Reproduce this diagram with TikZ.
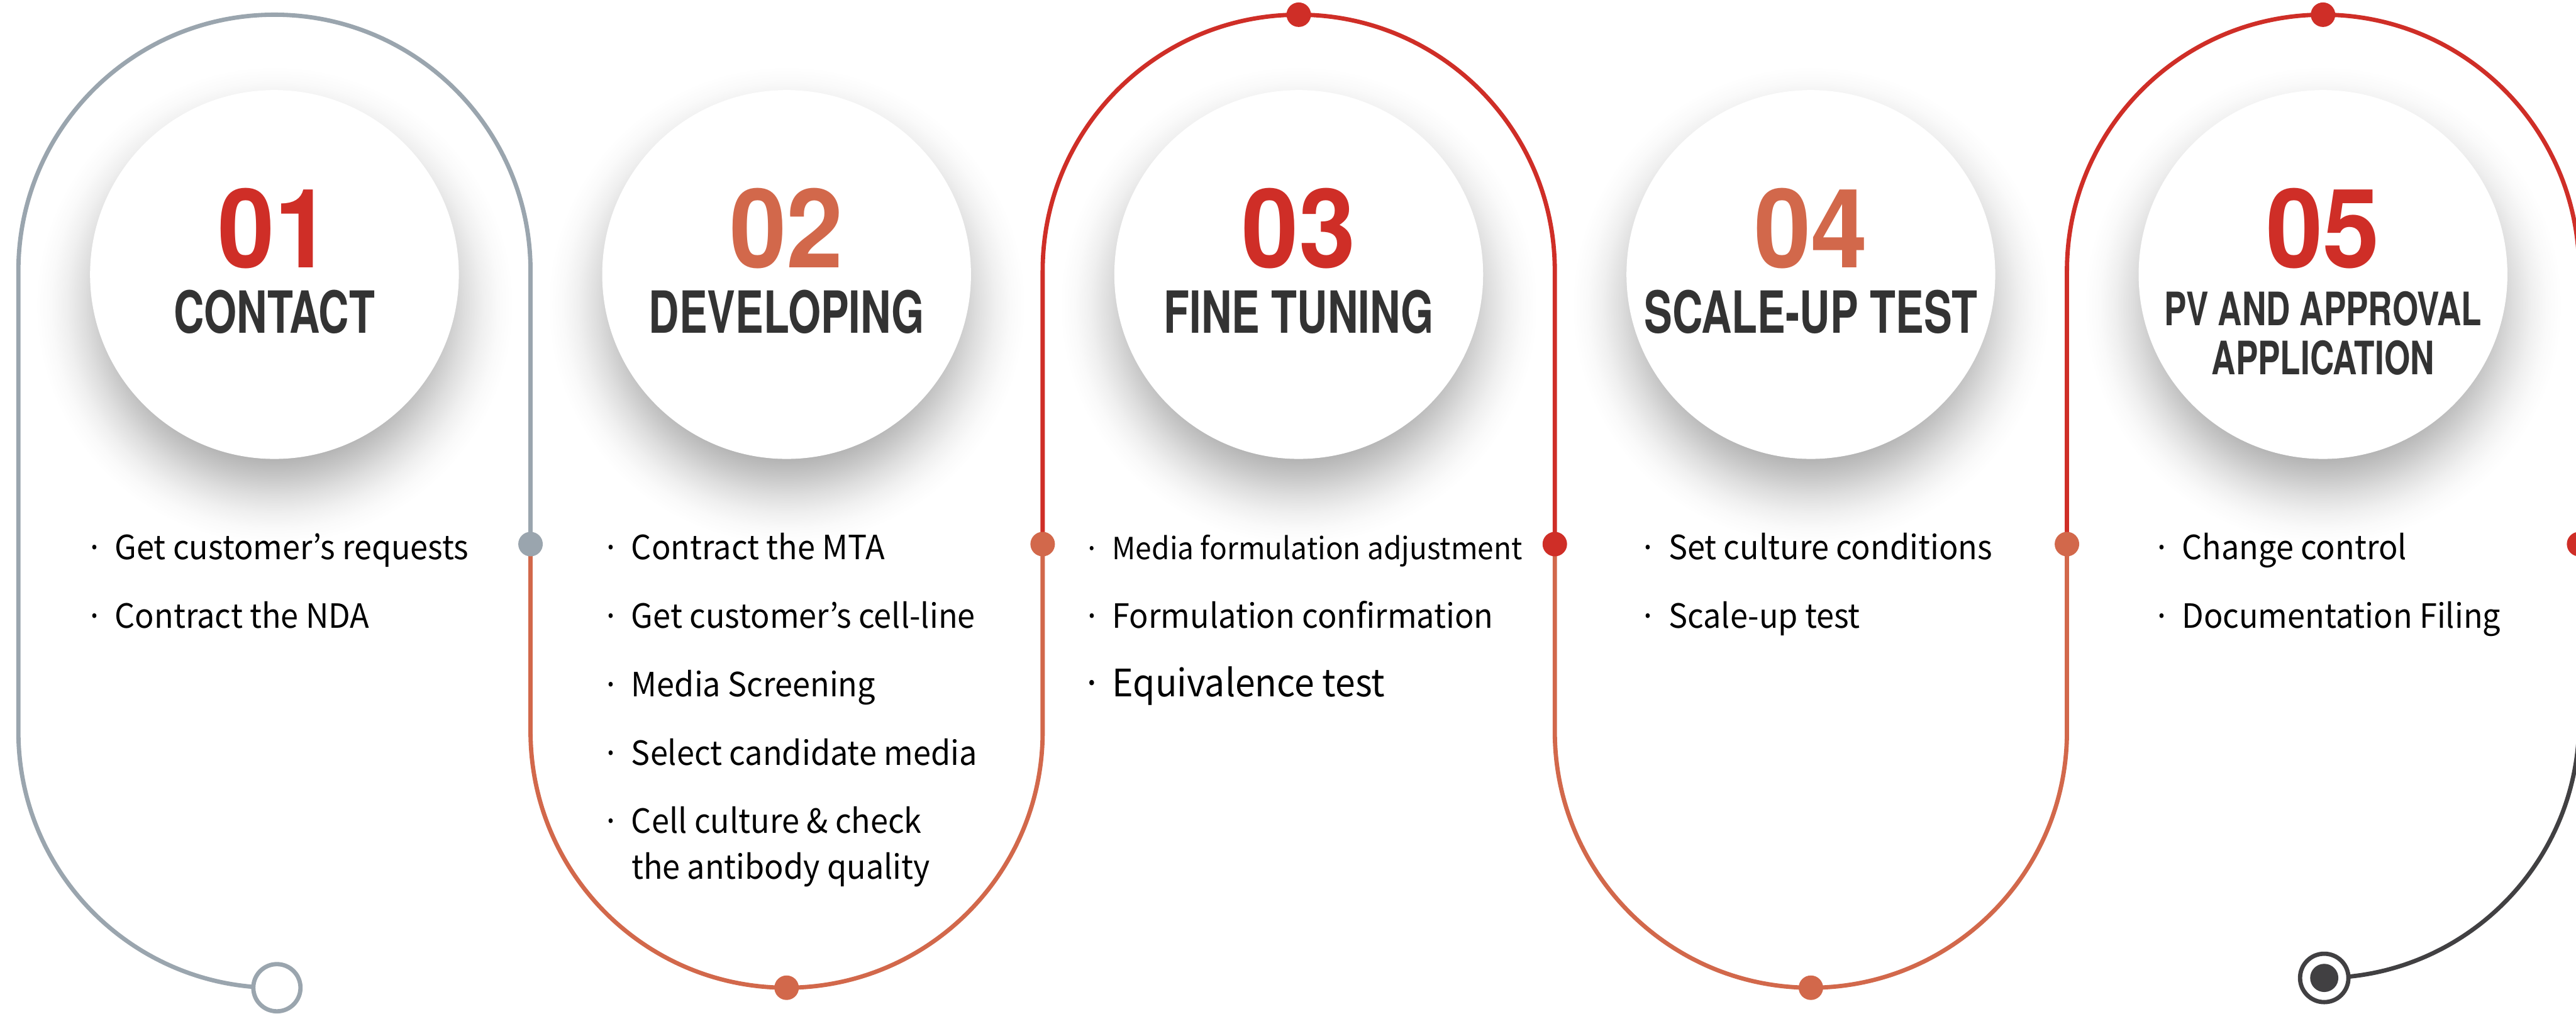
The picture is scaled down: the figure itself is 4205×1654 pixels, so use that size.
\documentclass[tikz,border=0pt]{standalone}
\usepackage{fontspec}
\newfontfamily\bodyfont[FakeStretch=0.95]{Noto Sans CJK KR}
\newfontfamily\numfont[FakeStretch=0.93]{TeX Gyre Heros}
\newfontfamily\headfont[FakeStretch=0.725]{TeX Gyre Heros}
\definecolor{slate}{HTML}{9AA5AE}
\definecolor{rust}{HTML}{D2684B}
\definecolor{crimson}{HTML}{CF2E27}
\definecolor{charcoal}{HTML}{414042}
\definecolor{ink}{HTML}{333333}
\newcommand\bul{\llap{\makebox[0pt]{·}\hspace{3.3mm}}}
% soft drop shadow round each disc
\pgfdeclareradialshading{halo}{\pgfpoint{0bp}{0bp}}{%
  color(0bp)=(black!30); color(16bp)=(black!30); color(17.9bp)=(black!22);
  color(19.9bp)=(black!13); color(21.8bp)=(black!6); color(23.4bp)=(black!2);
  color(25bp)=(white); color(50bp)=(white)}
\tikzset{wire/.style={line width=0.7mm,line cap=round,draw=#1},
  knot/.style={circle,fill=#1,minimum size=4mm,inner sep=0pt},
  disc/.style={circle,fill=white,minimum size=60.2mm,inner sep=0pt},
  stepnum/.style={font=\numfont\bfseries\fontsize{51}{51}\selectfont,inner sep=0pt},
  steptitle/.style={text=ink,align=center,inner sep=0pt},
  item/.style={anchor=base west,inner sep=0pt,
    font=\bodyfont\fontsize{15.5}{19}\selectfont}}

\begin{document}
\begin{tikzpicture}[x=0.1mm,y=0.1mm]
\useasboundingbox (0,0) rectangle (4205,1654);
\fill[white] (0,0) rectangle (4205,1654);
\clip (0,0) rectangle (4205,1654);

% Joints of the track.
\coordinate (s) at (452,42);
\coordinate (m1) at (866,766);
\coordinate (m2) at (1702,766);
\coordinate (m3) at (2538,766);
\coordinate (m4) at (3374,766);
\coordinate (m5) at (4210,766);
\coordinate (e) at (3794,58);

% Shadows under the discs.
\foreach \cx in {448,1284,2120,2956,3792}
  \shade[shading=halo] (\cx,1156) circle (390);

% The track, one colour per stretch.
\draw[wire=slate] (s) -- (448,42) arc[start angle=270,end angle=180,radius=418]
  -- (30,1212) arc[start angle=180,end angle=0,radius=418] -- (m1);
\draw[wire=rust] (m1) -- (866,460) arc[start angle=180,end angle=360,radius=418] -- (m2);
\draw[wire=crimson] (m2) -- (1702,1212) arc[start angle=180,end angle=0,radius=418] -- (m3);
\draw[wire=rust] (m3) -- (2538,460) arc[start angle=180,end angle=360,radius=418] -- (m4);
\draw[wire=crimson] (m4) -- (3374,1212) arc[start angle=180,end angle=0,radius=418] -- (m5);
\draw[wire=charcoal] (m5) -- (4210,476) arc[start angle=0,end angle=-90,radius=418] -- (e);

% Dots on the track.
\node[knot=slate] (k1) at (m1) {};
\node[knot=rust] (k2) at (m2) {};
\node[knot=crimson] (k3) at (m3) {};
\node[knot=rust] (k4) at (m4) {};
\node[knot=crimson] (k5) at (m5) {};
\node[knot=crimson] (top1) at (2120,1630) {};
\node[knot=crimson] (top2) at (3792,1630) {};
\node[knot=rust] (bot1) at (1284,42) {};
\node[knot=rust] (bot2) at (2956,42) {};

% Start and finish rings.
\node[circle,draw=slate,line width=0.7mm,fill=white,minimum size=7.7mm,inner sep=0pt] (start) at (s) {};
\node[circle,draw=charcoal,line width=0.7mm,fill=white,minimum size=7.9mm,inner sep=0pt] (finish) at (e) {};
\node[circle,fill=charcoal,minimum size=4.6mm,inner sep=0pt] (finishdot) at (e) {};

% Step discs.
\foreach \i/\cx/\numcol/\ty/\tsize/\title in {
  1/448/crimson/1145/27/CONTACT,
  2/1284/rust/1145/27/DEVELOPING,
  3/2120/crimson/1145/27/FINE TUNING,
  4/2956/rust/1145/27/SCALE-UP TEST,
  5/3792/crimson/1110/21.4/{PV AND APPROVAL\\APPLICATION}}{
  \node[disc] (c\i) at (\cx,1206) {};
  \node[stepnum,text=\numcol] (n\i) at (\cx,1281) {0\i};
  \node[steptitle,font=\headfont\bfseries\fontsize{\tsize}{22.8}\selectfont]
    (t\i) at (\cx,\ty) {\title};
}

% Tasks under each step.
\foreach \k/\y/\txt in {1/741/{Get customer’s requests},2/629/{Contract the NDA}}
  \node[item] (a\k) at (187,\y) {\bul\txt};

\foreach \k/\y/\txt in {1/741/{\bul Contract the MTA},2/629/{\bul Get customer’s cell-line},
  3/517/{\bul Media Screening},4/405/{\bul Select candidate media},
  5/294/{\bul Cell culture \& check},6/219/{the antibody quality}}
  \node[item] (b\k) at (1030,\y) {\txt};

\foreach \k/\y/\fs/\txt in {1/741/14.15/{Media formulation adjustment},
  2/629/15.5/{Formulation confirmation},3/517/17.55/{Equivalence test}}
  \node[item,font=\bodyfont\fontsize{\fs}{19}\selectfont] (d\k) at (1815,\y) {\bul\txt};

\foreach \k/\y/\txt in {1/741/{Set culture conditions},2/629/{Scale-up test}}
  \node[item] (f\k) at (2723,\y) {\bul\txt};

\foreach \k/\y/\txt in {1/741/{Change control},2/629/{Documentation Filing}}
  \node[item] (g\k) at (3561,\y) {\bul\txt};
\end{tikzpicture}
\end{document}
